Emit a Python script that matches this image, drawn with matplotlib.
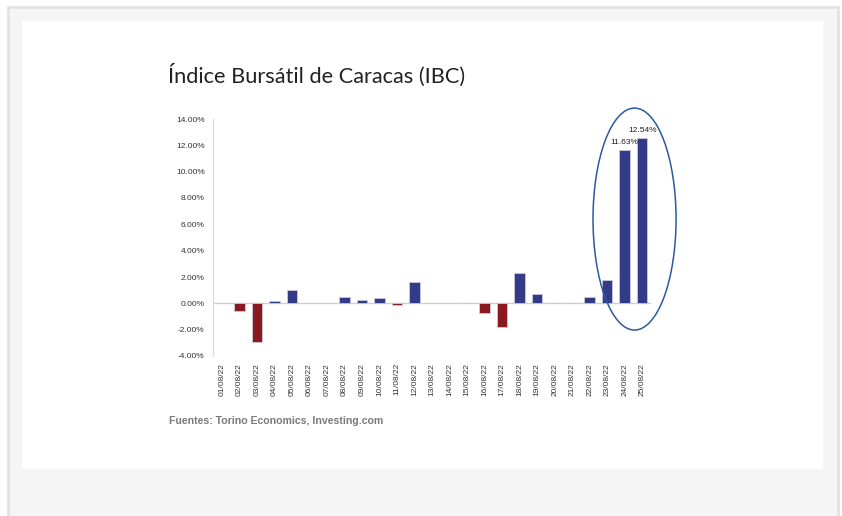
import matplotlib
matplotlib.use("Agg")
import matplotlib.pyplot as plt
from matplotlib.patches import Rectangle, Ellipse

dates = ["01/08/22", "02/08/22", "03/08/22", "04/08/22", "05/08/22", "06/08/22",
         "07/08/22", "08/08/22", "09/08/22", "10/08/22", "11/08/22", "12/08/22",
         "13/08/22", "14/08/22", "15/08/22", "16/08/22", "17/08/22", "18/08/22",
         "19/08/22", "20/08/22", "21/08/22", "22/08/22", "23/08/22", "24/08/22",
         "25/08/22"]
values = [0.0, -0.61, -2.96, 0.20, 1.01, 0.0,
          0.0, 0.48, 0.23, 0.38, -0.15, 1.59,
          0.0, 0.0, 0.0, -0.71, -1.80, 2.33,
          0.68, 0.0, 0.0, 0.48, 1.77, 11.63,
          12.54]
labeled = {23: "11.63%", 24: "12.54%"}
yticks = [-4, -2, 0, 2, 4, 6, 8, 10, 12, 14]

W, H = 842, 516
fig = plt.figure(figsize=(W / 100, H / 100), dpi=100)
fig.patch.set_facecolor("white")

def px_rect(x0, y0, x1, y1, **kw):
    fig.patches.append(Rectangle((x0 / W, 1 - y1 / H), (x1 - x0) / W, (y1 - y0) / H,
                                 transform=fig.transFigure, figure=fig, zorder=-10, **kw))

px_rect(8, 7, 838, 530, facecolor="#f5f5f5", edgecolor="#e2e2e2", linewidth=2)
px_rect(22, 21, 823, 469, facecolor="white", edgecolor="none")

ax = fig.add_axes([213 / W, 1 - 356 / H, 438 / W, 237 / H])
ax.set_facecolor("none")
ax.set_zorder(5)

colors = ["#333a87" if v >= 0 else "#8b1a1f" for v in values]
x = list(range(len(dates)))
ax.bar(x, values, width=0.6, color=colors, edgecolor="#c9c9dc", linewidth=0.6, zorder=3)
ax.axhline(0, color="#d0d0d0", linewidth=1.0, zorder=2)

for i, txt in labeled.items():
    ax.text(i, values[i] + 0.35, txt, ha="center", va="bottom", fontsize=6,
            family="Liberation Sans", color="#222222", zorder=4)

ax.set_xlim(-0.5, len(dates) - 0.5)
ax.set_ylim(-4, 14)
ax.set_yticks(yticks)
ax.set_yticklabels([f"{v:.2f}%" for v in yticks], fontsize=6, family="Liberation Sans",
                   color="#333333")
ax.set_xticks(x)
ax.set_xticklabels(dates, rotation=90, fontsize=6, family="Liberation Sans", color="#333333")
ax.tick_params(axis="both", length=0, pad=6)
ax.tick_params(axis="x", pad=5)
for s in ["top", "right", "bottom"]:
    ax.spines[s].set_visible(False)
ax.spines["left"].set_color("#d9d9d9")
ax.spines["left"].set_linewidth(0.8)

ell = Ellipse((23.56, 6.4), width=4.74, height=16.86, fill=False, edgecolor="#2c5a9e",
              linewidth=1.1, clip_on=False, zorder=5)
ax.add_patch(ell)

fig.text(168 / W, 1 - 75 / H, "Índice Bursátil de Caracas (IBC)", fontsize=15.7,
         family="Lato", color="#222222", ha="left", va="center")
fig.text(169 / W, 1 - 421 / H, "Fuentes: Torino Economics, Investing.com", fontsize=7.6,
         family="Liberation Sans", fontweight="bold", color="#7a7a7a", ha="left", va="center")

fig.savefig("out.png", dpi=100, facecolor=fig.get_facecolor())
